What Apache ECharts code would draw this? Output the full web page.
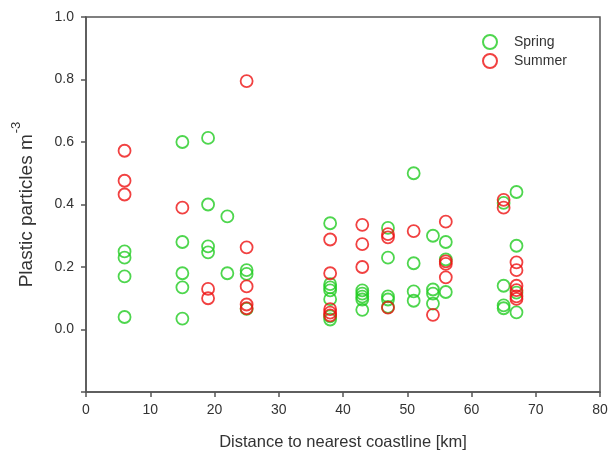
<!DOCTYPE html>
<html>
<head>
<meta charset="utf-8">
<script src="https://cdn.jsdelivr.net/npm/echarts@6/dist/echarts.min.js"></script>
<style>html,body{margin:0;padding:0;background:#fff;}#c{width:612px;height:458px;}</style>
</head>
<body>
<div id="c"></div>
<script>
// Spring samples: distance (km) and concentration (particles m^-3)
var springDistance = [6,6,6,6, 15,15,15,15,15, 19,19,19,19, 22,22, 25,25,25,
  38,38,38,38,38,38,38, 43,43,43,43,43, 47,47,47,47,47, 51,51,51,51,
  54,54,54,54, 56,56,56, 65,65,65,65, 67,67,67,67];
var springValue = [0.25,0.23,0.17,0.04, 0.60,0.28,0.18,0.135,0.035, 0.613,0.40,0.266,0.247, 0.362,0.18, 0.19,0.178,0.066,
  0.34,0.145,0.135,0.125,0.097,0.042,0.032, 0.125,0.115,0.105,0.096,0.063, 0.325,0.23,0.106,0.096,0.072, 0.50,0.212,0.122,0.092,
  0.30,0.128,0.115,0.083, 0.28,0.224,0.12, 0.405,0.14,0.077,0.068, 0.44,0.268,0.118,0.055];
// Summer samples
var summerDistance = [6,6,6, 15, 19,19, 25,25,25,25,25, 38,38,38,38,38, 43,43,43,
  47,47,47, 51, 54, 56,56,56,56, 65,65, 67,67,67,67,67,67];
var summerValue = [0.572,0.476,0.432, 0.39, 0.13,0.10, 0.795,0.263,0.138,0.08,0.068, 0.288,0.18,0.065,0.054,0.045, 0.335,0.273,0.20,
  0.305,0.295,0.07, 0.315, 0.047, 0.345,0.218,0.21,0.167, 0.415,0.39, 0.215,0.19,0.14,0.126,0.106,0.098];
var xTicks = [0,10,20,30,40,50,60,70,80];
var yTicks = [0.0,0.2,0.4,0.6,0.8,1.0];

function pairs(xs, ys){ return xs.map(function(x,i){ return [x, ys[i]]; }); }

var chart = echarts.init(document.getElementById('c'));
var axisColor = '#555';
var textColor = '#333';
var font = 'Liberation Sans, Arial, sans-serif';
chart.setOption({
  animation: false,
  grid: {left: 86, right: 12, top: 17, bottom: 66, show: true, borderColor: axisColor, borderWidth: 1.5, backgroundColor: 'transparent'},
  legend: {
    orient: 'vertical', left: 477, top: 29, itemWidth: 14, itemHeight: 14, itemGap: 3,
    textStyle: {fontSize: 14, color: textColor, fontFamily: font, padding: [0,0,0,12]},
    data: ['Spring','Summer']
  },
  xAxis: {
    type: 'value', min: 0, max: 80, interval: 10,
    name: 'Distance to nearest coastline [km]', nameLocation: 'middle', nameGap: 42,
    nameTextStyle: {fontSize: 16.5, color: textColor, fontFamily: font},
    axisLine: {show: true, onZero: false, lineStyle: {color: axisColor, width: 1.5}},
    axisTick: {show: true, inside: false, length: 5, lineStyle: {color: axisColor, width: 1.5}},
    axisLabel: {fontSize: 14, color: textColor, fontFamily: font, margin: 11,
      formatter: function(v){ return xTicks.indexOf(v) >= 0 ? String(v) : ''; }},
    splitLine: {show: false}
  },
  yAxis: {
    type: 'value', min: -0.2, max: 1.0, interval: 0.2,
    name: '{a|Plastic particles m}{s|-3}', nameLocation: 'middle', nameGap: 50, nameRotate: 90,
    nameTextStyle: {fontSize: 19, color: textColor, fontFamily: font,
      rich: {a: {fontSize: 19, color: textColor, fontFamily: font, verticalAlign: 'bottom', lineHeight: 26},
             s: {fontSize: 13, color: textColor, fontFamily: font, verticalAlign: 'top', lineHeight: 26, padding: [0,0,12,1]}}},
    axisLine: {show: true, onZero: false, lineStyle: {color: axisColor, width: 1.5}},
    axisTick: {show: true, inside: false, length: 5, lineStyle: {color: axisColor, width: 1.5}},
    axisLabel: {fontSize: 14, color: textColor, fontFamily: font, margin: 12,
      formatter: function(v){
        for (var i = 0; i < yTicks.length; i++) { if (Math.abs(yTicks[i]-v) < 1e-9) return yTicks[i].toFixed(1); }
        return '';
      }},
    splitLine: {show: false}
  },
  series: [
    {name: 'Spring', type: 'scatter', symbol: 'circle', symbolSize: 12,
     itemStyle: {color: 'rgba(0,0,0,0)', borderColor: '#22cc22', borderWidth: 1.8},
     data: pairs(springDistance, springValue)},
    {name: 'Summer', type: 'scatter', symbol: 'circle', symbolSize: 12,
     itemStyle: {color: 'rgba(0,0,0,0)', borderColor: '#ee1111', borderWidth: 1.8},
     data: pairs(summerDistance, summerValue)}
  ]
});
</script>
</body>
</html>
